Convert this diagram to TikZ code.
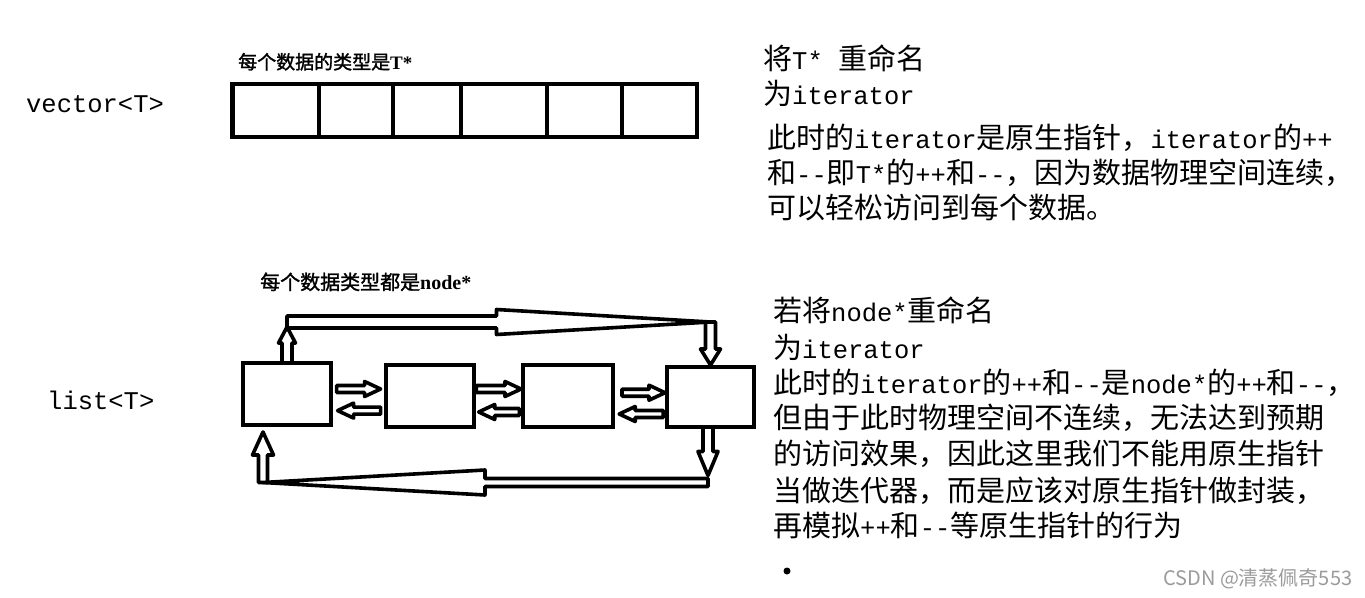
\documentclass[tikz,border=0pt]{standalone}
\usepackage{fontspec}
\setmainfont{Noto Sans CJK SC}
\newfontfamily\lmono[Ligatures=TeXOff]{Liberation Mono}
\newfontfamily\cjkb[FakeBold=1.5]{Noto Sans CJK SC}
\newfontfamily\lserif{Liberation Serif}
\usetikzlibrary{calc}
\definecolor{wm}{RGB}{155,155,155}
\newcommand\ltn[1]{{\lmono\fontsize{25.5}{36}\selectfont #1}}
\newcommand\hollowarr[5]{%
  \coordinate (ha) at (#1);
  \coordinate (ht) at (#2);
  \coordinate (hh) at ($(ht)!#5!(ha)$);
  \draw[hollow] ($(ha)!#3!90:(ht)$) -- ($(hh)!#3!-90:(ha)$) -- ($(hh)!#4!-90:(ha)$) -- (ht)
     -- ($(hh)!#4!90:(ha)$) -- ($(hh)!#3!90:(ha)$) -- ($(ha)!#3!-90:(ht)$) -- cycle;}
\begin{document}
\begin{tikzpicture}[x=1pt,y=-1pt,
  box/.style={draw, line width=4.6pt, inner sep=0pt, outer sep=0pt},
  hollow/.style={draw, line width=3.6pt, fill=white, line join=round},
  txt/.style={anchor=base west, inner sep=0pt, font=\fontsize{29}{36}\selectfont},
  lbl/.style={anchor=base west, inner sep=0pt, font=\lmono\fontsize{25.5}{30}\selectfont},
  small/.style={anchor=base west, inner sep=0pt, font=\cjkb\fontsize{19}{24}\selectfont}]
\fill[white] (0,0) rectangle (1365,597);
\useasboundingbox (0,0) rectangle (1365,597);

% ---- vector ----
\node[lbl] (vlab) at (26,112) {vector<T>};
\node[small] (vtype) at (238,69) {每个数据的类型是{\lserif\bfseries T*}};
\node[box, minimum width=86.5pt, minimum height=53pt] (v1) at (275.75,110.5) {};
\node[box, minimum width=74pt, minimum height=53pt] (v2) at (356,110.5) {};
\node[box, minimum width=68pt, minimum height=53pt] (v3) at (427,110.5) {};
\node[box, minimum width=86pt, minimum height=53pt] (v4) at (504,110.5) {};
\node[box, minimum width=75pt, minimum height=53pt] (v5) at (584.5,110.5) {};
\node[box, minimum width=75pt, minimum height=53pt] (v6) at (659.5,110.5) {};

% ---- text block 1 ----
\node[txt] (t1a) at (763,69) {将\ltn{T*\ }重命名};
\node[txt] (t1b) at (763,104) {为\ltn{iterator}};
\node[txt] (t1c) at (767,148) {此时的\ltn{iterator}是原生指针，\ltn{iterator}的\ltn{++}};
\node[txt] (t1d) at (767,183) {和\ltn{--}即\ltn{T*}的\ltn{++}和\ltn{--}，因为数据物理空间连续，};
\node[txt] (t1e) at (767,218) {可以轻松访问到每个数据。};

% ---- list ----
\node[lbl] (llab) at (47,409) {list<T>};
\node[small, font=\cjkb\fontsize{20}{24}\selectfont] (ltype) at (260,289.5) {每个数据类型都是{\lserif\bfseries node*}};
\node[box, minimum width=88pt, minimum height=62pt] (b1) at (287,394) {};
\node[box, minimum width=88pt, minimum height=62pt] (b2) at (430,396) {};
\node[box, minimum width=90pt, minimum height=62pt] (b3) at (568,396) {};
\node[box, minimum width=87pt, minimum height=60pt] (b4) at (710.5,397) {};

% arrows between neighbouring boxes
\path let \p1=(b1.east), \p2=(b2.west) in
  coordinate (r12s) at (\x1+5.6pt,\y1+5pt) coordinate (r12t) at (\x2-5.4pt,\y1+5pt)
  coordinate (l12s) at (\x2-5.4pt,\y1-16.6pt) coordinate (l12t) at (\x1+6.6pt,\y1-16.6pt);
\hollowarr{r12s}{r12t}{3.5pt}{7.5pt}{16pt}
\hollowarr{l12s}{l12t}{3.5pt}{7.5pt}{16pt}
\path let \p1=(b2.east), \p2=(b3.west) in
  coordinate (r23s) at (\x1+2.4pt,\y1+7pt) coordinate (r23t) at (\x2-2pt,\y1+7pt)
  coordinate (l23s) at (\x2-3.7pt,\y1-16pt) coordinate (l23t) at (\x1+4.7pt,\y1-16pt);
\hollowarr{r23s}{r23t}{3.5pt}{7.5pt}{16pt}
\hollowarr{l23s}{l23t}{3.5pt}{7.5pt}{16pt}
\path let \p1=(b3.east), \p2=(b4.west) in
  coordinate (r34s) at (\x1+9pt,\y1+3.3pt) coordinate (r34t) at (\x2-2pt,\y1+3.3pt)
  coordinate (l34s) at (\x2-3.8pt,\y1-18pt) coordinate (l34t) at (\x1+6.2pt,\y1-18pt);
\hollowarr{r34s}{r34t}{3.5pt}{7.5pt}{16pt}
\hollowarr{l34s}{l34t}{3.5pt}{7.5pt}{16pt}

% top loop
\coordinate (TL) at ($(b1.north)+(0,-41)$);
\coordinate (TR) at ($(b4.north)+(0,-45)$);
\hollowarr{b1.north}{$(TL)+(0,5)$}{5pt}{8.5pt}{16pt}
\hollowarr{TL}{TR}{6pt}{12.5pt}{214pt}
\hollowarr{TR}{$(b4.north)+(0,-2)$}{5pt}{10pt}{16pt}

% bottom loop
\coordinate (BR) at ($(b4.south)+(-2.5,55.5)$);
\coordinate (BL) at ($(b1.south |- BR)+(-24,0)$);
\hollowarr{$(b4.south)+(-2.5,0)$}{$(BR)+(0,-7)$}{5pt}{10pt}{24pt}
\hollowarr{BR}{BL}{4pt}{12.5pt}{222pt}
\hollowarr{BL}{$(b1.south)+(-24,7)$}{4.5pt}{10.5pt}{23pt}

% ---- text block 2 ----
\node[txt] (t2a) at (773,321) {若将\ltn{node*}重命名};
\node[txt] (t2b) at (773,358) {为\ltn{iterator}};
\node[txt] (t2c) at (773,393) {此时的\ltn{iterator}的\ltn{++}和\ltn{--}是\ltn{node*}的\ltn{++}和\ltn{--}，};
\node[txt] (t2d) at (773,428) {但由于此时物理空间不连续，无法达到预期};
\node[txt] (t2e) at (773,464) {的访问效果，因此这里我们不能用原生指针};
\node[txt] (t2f) at (773,501) {当做迭代器，而是应该对原生指针做封装，};
\node[txt] (t2g) at (773,536) {再模拟\ltn{++}和\ltn{--}等原生指针的行为};

% dots
\fill (787,571) circle (3.5);
\fill (865,463) circle (2.3);

% watermark
\node[anchor=base west, inner sep=0pt, text=wm, font=\fontsize{20}{22}\selectfont] (wmark) at (1163,585) {CSDN @清蒸佩奇553};
\end{tikzpicture}
\end{document}
